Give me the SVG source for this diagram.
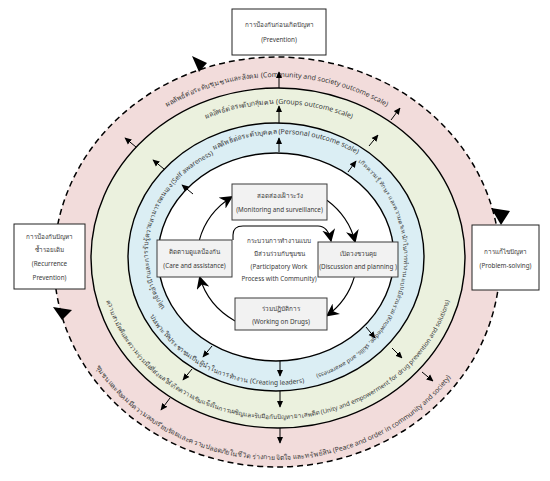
<svg xmlns="http://www.w3.org/2000/svg" width="550" height="481" viewBox="0 0 550 481">
<style>
text{font-family:"Noto Sans","DejaVu Sans",sans-serif;fill:#3a3a3a}
.bx{font-size:6.3px;text-anchor:middle}
.arc{font-size:7px}
.ring{stroke:#000;stroke-width:1.4}
.ibox{fill:#f2f2f2;stroke:#3a3a3a;stroke-width:1}
.obox{fill:#fff;stroke:#222;stroke-width:1}
.ra{stroke:#000;stroke-width:1;fill:none;marker-end:url(#sm)}
.cy{stroke:#000;stroke-width:1.1;fill:none;marker-end:url(#big)}
</style>
<defs>
<marker id="sm" viewBox="0 0 10 10" refX="9" refY="5" markerWidth="7" markerHeight="7" orient="auto" markerUnits="userSpaceOnUse"><path d="M0,0.5 L10,5 L0,9.5 z" fill="#000"/></marker>
<marker id="big" viewBox="0 0 10 10" refX="9" refY="5" markerWidth="13" markerHeight="13" orient="auto" markerUnits="userSpaceOnUse"><path d="M0,0 L10,5 L0,10 L3,5 z" fill="#000"/></marker>
<path id="pTop" d="M76,262 A201 185 0 0 1 478,262"/>
<path id="gTop" d="M109,258 A170 154 0 0 1 449,258"/>
<path id="bTop" d="M142,263 A140 129 0 0 1 422,263"/>
<path id="bLeft" d="M165,308 A122 110 0 0 1 215,154"/>
<path id="bRight" d="M340,149.6 A128 124 0 0 1 253.8,379.1"/>
<path id="bBot" d="M134,257 A142 128 0 0 0 418,257"/>
<path id="gBot" d="M100,258 A178 161 0 0 0 456,258"/>
<path id="pBot" d="M63,262 A214 198 0 0 0 491,262"/>
</defs>

<g id="rings">
<ellipse cx="277" cy="262" rx="223" ry="205" fill="#f2dcdb" stroke="#000" stroke-width="1.5" stroke-dasharray="6 4"/>
<ellipse class="ring" cx="278" cy="258" rx="187" ry="170" fill="#ebf1de"/>
<ellipse class="ring" cx="276" cy="257" rx="148" ry="134" fill="#dbeef4"/>
<ellipse class="ring" cx="276" cy="257" rx="118" ry="104" fill="#fff"/>
</g>

<g id="ring-texts" class="arc">
<text><textPath href="#pTop" startOffset="50%" text-anchor="middle">ผลลัพธ์ต่อระดับชุมชนและสังคม (Community and society outcome scale)</textPath></text>
<text><textPath href="#gTop" startOffset="50%" text-anchor="middle">ผลลัพธ์ต่อระดับกลุ่มคน (Groups outcome scale)</textPath></text>
<text><textPath href="#bTop" startOffset="51%" text-anchor="middle">ผลลัพธ์ต่อระดับบุคคล (Personal outcome scale)</textPath></text>
<text style="font-size:6.6px"><textPath href="#bLeft" startOffset="0">ปลุกจิตสำนึกและการรับรู้ความสามารถตนเอง (Self awareness)</textPath></text>
<text style="font-size:5.8px"><textPath href="#bRight" startOffset="22" textLength="266" lengthAdjust="spacingAndGlyphs">เกิดความรู้ ทักษะ และความตระหนักในการทำงานแบบมีส่วนร่วม (Knowledge, skills, and awareness)</textPath></text>
<text style="font-size:6.6px"><textPath href="#bBot" startOffset="62">บ่มเพาะให้ประชาชนเป็นผู้นำในการทำงาน (Creating leaders)</textPath></text>
<text style="font-size:6.3px"><textPath href="#gBot" startOffset="50%" text-anchor="middle">ความสามัคคีและความร่วมมือที่ส่งผลให้เกิดความเข้มแข็งในการเผชิญและรับมือกับปัญหายาเสพติด (Unity and empowerment for drug prevention and solutions)</textPath></text>
<text style="font-size:6.9px"><textPath href="#pBot" startOffset="49%" text-anchor="middle">ชุมชนและสังคมมีความสงบเรียบร้อยและความปลอดภัยในชีวิต ร่างกาย จิตใจ และทรัพย์สิน (Peace and order in community and society)</textPath></text>
</g>

<g id="connectors">
<path class="ra" d="M279,152 V138"/>
<path class="ra" d="M279,123 V106"/>
<path class="ra" d="M279,88 V72"/>
<path class="ra" d="M193,194 L182,185"/>
<path class="ra" d="M164,169 L153,160"/>
<path class="ra" d="M136,147 L125,138"/>
<path class="ra" d="M348,172 L356,161"/>
<path class="ra" d="M369,146 L378,135"/>
<path class="ra" d="M391,120 L400,108"/>
<path class="ra" d="M280,361 V376"/>
<path class="ra" d="M280,391 V407"/>
<path class="ra" d="M280,428 V443"/>
<path class="ra" d="M212,346 L203,357"/>
<path class="ra" d="M192,369 L183,380"/>
<path class="ra" d="M170,398 L161,410"/>
<path class="ra" d="M366,327 L375,338"/>
<path class="ra" d="M392,348 L402,358"/>
<path class="ra" d="M422,372 L433,381"/>
<path class="cy" d="M199.4,240 A80 74 0 0 1 232,196.8"/>
<path class="cy" d="M327,200.2 A80 74 0 0 1 355.1,242"/>
<path class="cy" d="M354.3,277 A80 74 0 0 1 327,315.8"/>
<path class="cy" d="M235,321 A80 74 0 0 1 199.7,277"/>
<path class="cy" d="M233,240 V235 Q233,226 243,226 H318 Q328,226 331,241"/>
<polygon points="192,56 207,63 199,72" fill="#000"/>
<polygon points="491,208 510,211 501,225" fill="#000"/>
<polygon points="53,307 72,310 62,320" fill="#000"/>
</g>

<g id="center-label">
<text class="bx" x="279" y="243">กระบวนการทำงานแบบ</text>
<text class="bx" x="279" y="256">มีส่วนร่วมกับชุมชน</text>
<text class="bx" x="279" y="269">(Participatory Work</text>
<text class="bx" x="279" y="281">Process with Community)</text>
</g>

<g id="monitoring">
<rect class="ibox" x="232" y="184" width="95" height="36"/>
<text class="bx" x="279.5" y="198">สอดส่องเฝ้าระวัง</text>
<text class="bx" x="279.5" y="212">(Monitoring and surveillance)</text>
</g>
<g id="discussion">
<rect class="ibox" x="318" y="242" width="80" height="35"/>
<text class="bx" x="358" y="256">เปิดวงชวนคุย</text>
<text class="bx" x="358" y="269">(Discussion and planning )</text>
</g>
<g id="working">
<rect class="ibox" x="235" y="298" width="92" height="32"/>
<text class="bx" x="281" y="311">ร่วมปฏิบัติการ</text>
<text class="bx" x="281" y="324">(Working on Drugs)</text>
</g>
<g id="care">
<rect class="ibox" x="157" y="240" width="75" height="37"/>
<text class="bx" x="194.5" y="254">ติดตามดูแลป้องกัน</text>
<text class="bx" x="194.5" y="268">(Care and assistance)</text>
</g>

<g id="prevention">
<rect class="obox" x="232" y="9" width="94" height="46"/>
<text class="bx" x="279" y="27">การป้องกันก่อนเกิดปัญหา</text>
<text class="bx" x="279" y="42">(Prevention)</text>
</g>
<g id="recurrence">
<rect class="obox" x="14" y="224" width="71" height="65"/>
<text class="bx" x="49.5" y="239">การป้องกันปัญหา</text>
<text class="bx" x="49.5" y="252">ซ้ำรอยเดิม</text>
<text class="bx" x="49.5" y="266">(Recurrence</text>
<text class="bx" x="49.5" y="280">Prevention)</text>
</g>
<g id="problem-solving">
<rect class="obox" x="472" y="225" width="67" height="65"/>
<text class="bx" x="505.5" y="254">การแก้ไขปัญหา</text>
<text class="bx" x="505.5" y="268">(Problem-solving)</text>
</g>
</svg>
